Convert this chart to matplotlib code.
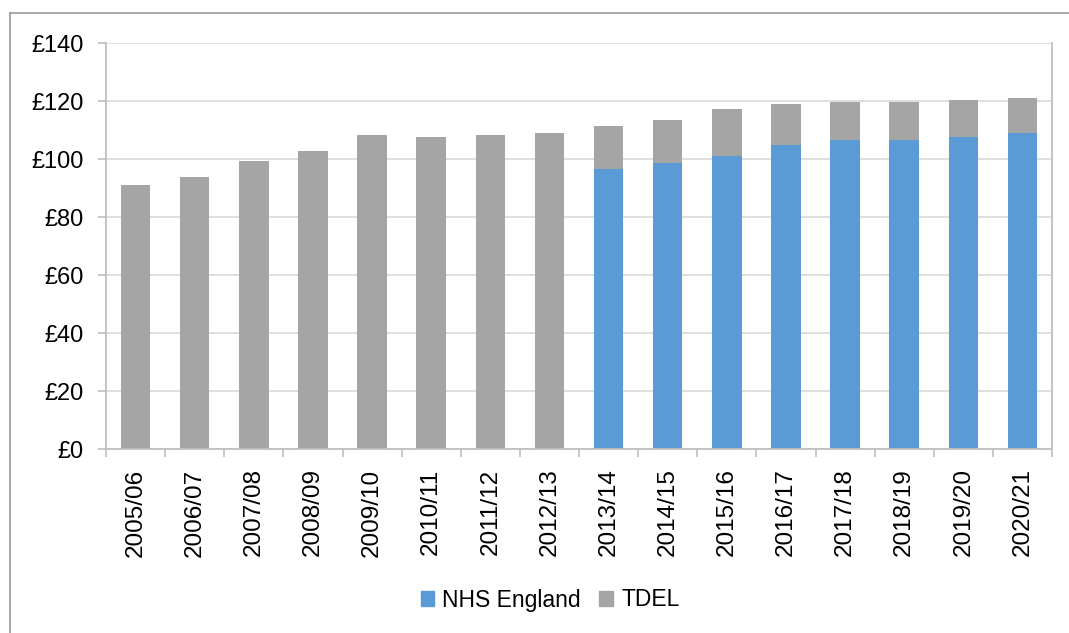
import numpy as np
import matplotlib
matplotlib.use('Agg')
import matplotlib.pyplot as plt
from matplotlib.lines import Line2D
from matplotlib.patches import Patch


years = ['2005/06', '2006/07', '2007/08', '2008/09', '2009/10', '2010/11',
         '2011/12', '2012/13', '2013/14', '2014/15', '2015/16', '2016/17',
         '2017/18', '2018/19', '2019/20', '2020/21']

# total TDEL (£bn) and NHS England share (from 2013/14)
tdel_total = [91.0, 93.9, 99.3, 102.8, 108.3, 107.6, 108.2, 109.0,
              111.4, 113.4, 117.2, 118.8, 119.8, 119.8, 120.2, 121.0]
nhs_england = [0, 0, 0, 0, 0, 0, 0, 0,
               96.6, 98.6, 101.0, 104.9, 106.4, 106.7, 107.6, 108.9]

yticks = [0, 20, 40, 60, 80, 100, 120, 140]

BLUE = '#5B9BD5'
GREY = '#A5A5A5'
AXIS = '#BFBFBF'
GRID = '#D9D9D9'

plt.rcParams['font.family'] = ['Liberation Sans', 'DejaVu Sans']

W, H = 1069, 633
fig = plt.figure(figsize=(W / 100, H / 100), dpi=100)
ax = fig.add_axes([106 / W, 1 - 449 / H, (1052 - 106) / W, (449 - 43) / H])

x = np.arange(len(years))
nhs = np.array(nhs_england)
rest = np.array(tdel_total) - nhs

ax.bar(x, nhs, width=0.5, color=BLUE, zorder=2)
ax.bar(x, rest, width=0.5, bottom=nhs, color=GREY, zorder=2)

ax.set_xlim(-0.5, len(years) - 0.5)
ax.set_ylim(0, 140)

ax.set_yticks(yticks)
ax.set_yticklabels([f'£{v}' for v in yticks], fontsize=17)
ax.yaxis.grid(True, color=GRID, lw=1.2, zorder=0)
ax.set_axisbelow(True)

ax.set_xticks(x)
ax.set_xticklabels(years, rotation=90, fontsize=17.5, va='top')
ax.set_xticks(np.arange(len(years) + 1) - 0.5, minor=True)
ax.tick_params(axis='x', which='major', length=0, pad=14)
ax.tick_params(axis='x', which='minor', length=6, color=AXIS, width=1.2)
ax.tick_params(axis='y', length=6, color=AXIS, width=1.2, pad=10)

for side in ['left', 'bottom', 'right']:
    ax.spines[side].set_color(AXIS)
    ax.spines[side].set_linewidth(1.3)
ax.spines['top'].set_visible(False)

handles = [Patch(color=BLUE, label='NHS England'), Patch(color=GREY, label='TDEL')]
fig.legend(handles=handles, loc='center', bbox_to_anchor=(550 / W, 1 - 600 / H),
           ncol=2, frameon=False, fontsize=16.5, handlelength=0.6, handleheight=0.6,
           handletextpad=0.35, columnspacing=0.8)

# chart area border (cropped on right and bottom)
fig.add_artist(Line2D([9.5 / W, 1.0], [1 - 13 / H, 1 - 13 / H], color='#A0A0A0', lw=1.3))
fig.add_artist(Line2D([9.5 / W, 9.5 / W], [0.0, 1 - 13 / H], color='#A0A0A0', lw=1.3))

fig.savefig('out.png', dpi=100)
plt.close(fig)
